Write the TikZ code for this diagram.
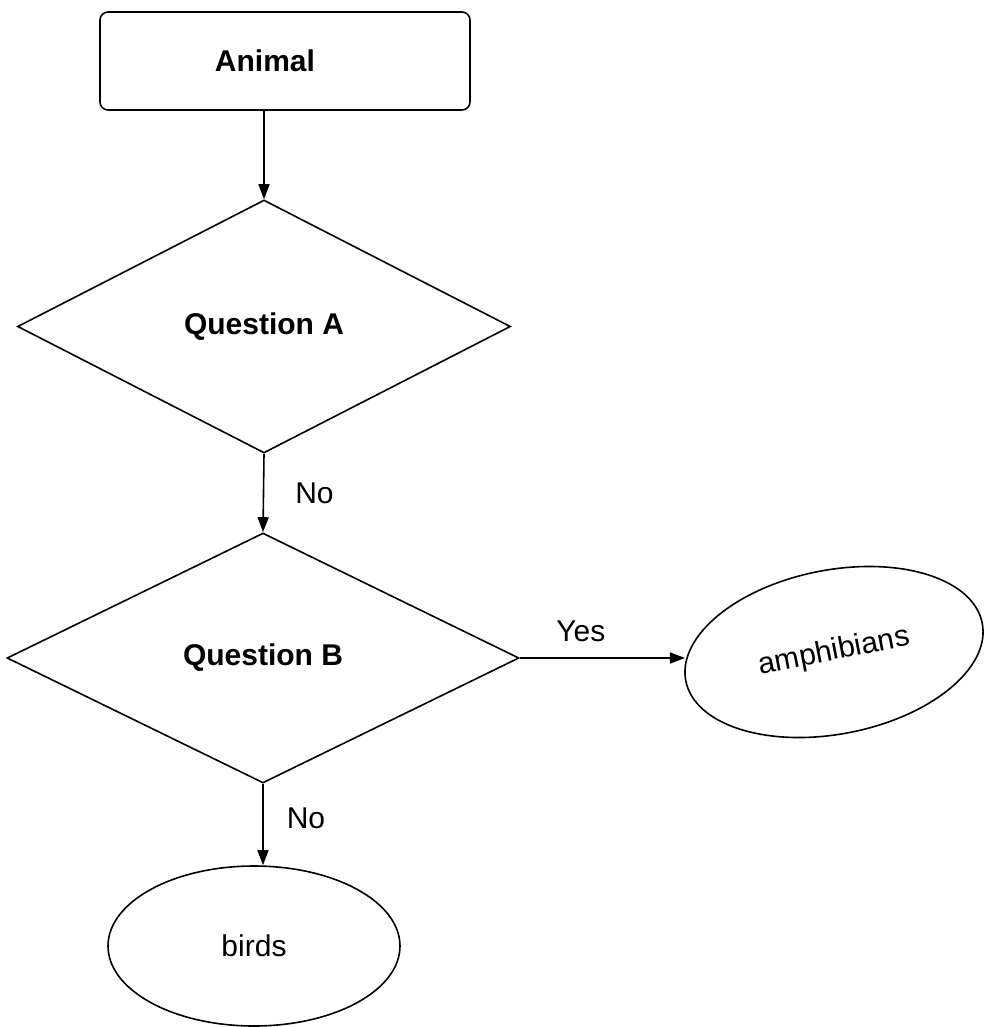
\documentclass[tikz,border=0pt]{standalone}
\usepackage{fontspec}
\setmainfont{Liberation Sans}
\usetikzlibrary{shapes.geometric,arrows.meta}
\begin{document}
\begin{tikzpicture}[x=1pt,y=-1pt, line width=1.6pt,
  txt/.style={font=\fontsize{30}{36}\selectfont},
  boldtxt/.style={font=\fontsize{30}{36}\selectfont\bfseries},
  startbox/.style={draw, rounded corners=8pt, minimum width=370pt, minimum height=98pt, inner sep=0pt, boldtxt},
  decision/.style={draw, diamond, inner sep=0pt, boldtxt},
  terminal/.style={draw, ellipse, inner sep=0pt, txt},
  arrow/.style={-{Triangle[length=15pt,width=11pt]}},
  lbl/.style={txt, inner sep=0pt}]
\useasboundingbox[fill=white] (0,0) rectangle (983,1027);

\node[startbox] (animal) at (285,61) {Animal\hspace*{40pt}};
\node[decision, minimum width=493pt, minimum height=253pt] (qa) at (264,326.5) {Question A};
\node[decision, minimum width=512pt, minimum height=250pt] (qb) at (263,658) {Question B};
\node[terminal, minimum width=302pt, minimum height=164pt, rotate=11] (amph) at (834,652) {amphibians};
\node[terminal, minimum width=292pt, minimum height=160pt] (birds) at (254,946) {birds};

\draw[arrow] (animal.south -| qa.north) -- (qa.north);
\draw[arrow] (qa.south) -- node[lbl, right=31pt] {No} (qb.north);
\draw[arrow] (qb.east) -- node[lbl, pos=0.37, above=15pt] {Yes} (qb.east -| amph.west);
\draw[arrow] (qb.south) -- node[lbl, pos=0.43, right=23pt] {No} (qb.south |- birds.north);
\end{tikzpicture}
\end{document}
